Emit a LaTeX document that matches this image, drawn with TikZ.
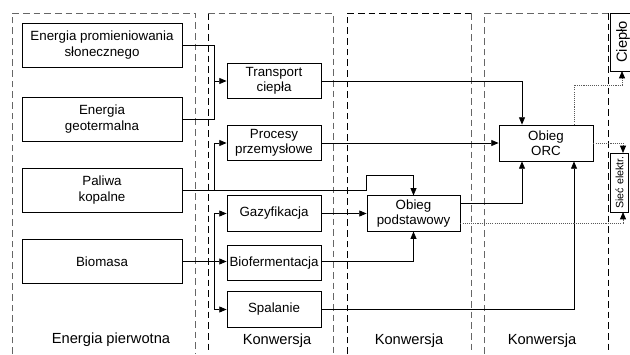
\documentclass[tikz,border=0pt]{standalone}
\usepackage{fontspec}
\setmainfont{Liberation Sans}
\usetikzlibrary{arrows.meta,calc}
\begin{document}
\begin{tikzpicture}[x=0.75pt,y=-0.75pt,
  box/.style={draw, line width=0.6pt, align=center, inner sep=1pt, font=\fontsize{10}{11.6}\selectfont},
  bigbox/.style={box, minimum width=120pt, minimum height=33pt},
  midbox/.style={box, minimum width=70.5pt, minimum height=26.5pt},
  conn/.style={line width=0.6pt},
  arr/.style={conn, -{Triangle[length=5.5pt,width=4.5pt]}},
  dotarr/.style={line width=0.6pt, black!65, dash pattern=on 0.8pt off 0.8pt, -{Triangle[length=5.5pt,width=4.5pt,color=black]}},
  regg/.style={black!60, line width=0.7pt, dash pattern=on 5pt off 3pt},
  regk/.style={black, line width=0.6pt, dash pattern=on 5pt off 3pt},
  lab/.style={font=\fontsize{11}{13}\selectfont}
]
\useasboundingbox (0,0) rectangle (630,354);
\clip (0,0) rectangle (630,354);

% regions
\draw[regg] (12,354) -- (12,13) -- (195,13) -- (195,354);
\draw[regk] (208,13) -- (208,354);
\draw[regg] (208,13) -- (333,13) -- (333,354);
\draw[regk] (347,354) -- (347,13) -- (471,13);
\draw[regg] (471,13) -- (471,354);
\draw[regg] (484,354) -- (484,13) -- (608,13);
\draw[regk] (608,13) -- (608,354);

% column 1
\node[bigbox] (A) at (102,45) {Energia promieniowania\\słonecznego};
\node[bigbox] (B) at (102,119) {Energia\\geotermalna};
\node[bigbox] (C) at (102,190) {Paliwa\\kopalne};
\node[bigbox] (D) at (102,261.5) {Biomasa};

% column 2
\node[midbox] (T) at (274,81) {Transport\\ciepła};
\node[midbox] (P) at (274,143) {Procesy\\przemysłowe};
\node[midbox] (G) at (274,213.5) {Gazyfikacja};
\node[midbox] (F) at (274,263) {Biofermentacja};
\node[midbox] (S) at (274,309.5) {Spalanie};

% column 3, 4
\node[box, minimum width=69.75pt, minimum height=26.5pt] (OP) at (413.5,213.5) {Obieg\\podstawowy};
\node[box, minimum width=70.5pt, minimum height=27pt] (ORC) at (546,143) {Obieg\\ORC};

% right
\node[draw, line width=0.6pt, minimum width=43.5pt, minimum height=19.5pt, inner sep=0pt, rotate=90, font=\fontsize{11}{13}\selectfont] (CI) at (623,42) {Ciepło};
\node[draw, line width=0.6pt, minimum width=44.25pt, minimum height=13pt, inner sep=0pt, rotate=90, font=\fontsize{8}{9}\selectfont] (SE) at (619.5,182.5) {Sieć elektr.};

% labels
\node[lab] (L1) at (111,340) {Energia pierwotna};
\node[lab] (L2) at (277,341) {Konwersja};
\node[lab] (L3) at (409,341) {Konwersja};
\node[lab] (L4) at (542,341) {Konwersja};

% connectors
\coordinate (j1) at (214,81);
\draw[conn] (A.east) -| (j1 |- B.east) -- (B.east);
\draw[conn] (j1) -- (j1 |- A.east);
\draw[arr] (j1) -- (T.west);

\coordinate (j2) at (214,190);
\draw[conn] (C.east) -- (OP.west |- C.east) -- (OP.west |- 0,175) -| (OP.north);
\draw[arr] (OP.north |- 0,175) -- (OP.north);
\draw[arr] (j2) |- (P.west);

\coordinate (j3) at (214,261.5);
\draw[arr] (D.east) -- (D.east -| F.west);
\draw[arr] (j3) |- (G.west);
\draw[arr] (j3) |- (S.west);

\draw[arr] (T.east) -| ($(ORC.north)+(-24,0)$);
\draw[arr] (P.east) -- (ORC.west);
\draw[arr] (G.east) -- (OP.west);
\draw[arr] (F.east |- 0,261) -| (OP.south);
\draw[arr] ($(OP.east)+(0,-10.5)$) -| ($(ORC.south)+(-24,0)$);
\draw[arr] (S.east) -| ($(ORC.south)+(28,0)$);

% dotted
\coordinate (e1) at (623,212);
\coordinate (e2) at (623,153);
\coordinate (e3) at (622,71);
\draw[dotarr] ($(OP.east)+(0,9.5)$) -| (e1);
\draw[dotarr] (ORC.east) -| (e2);
\draw[dotarr] ($(ORC.north)+(28,0)$) |- (622,85) -- (e3);
\end{tikzpicture}
\end{document}
